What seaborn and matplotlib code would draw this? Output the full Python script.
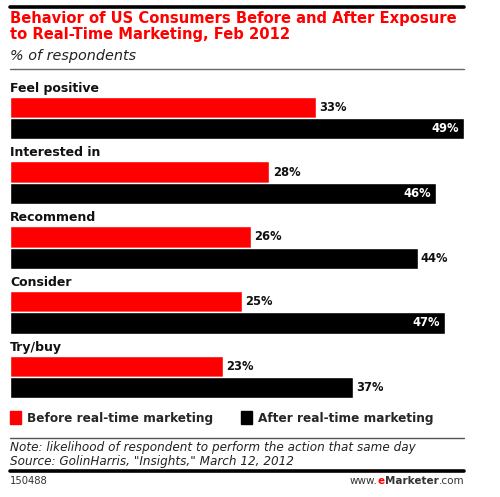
import pandas as pd
import matplotlib.pyplot as plt
import seaborn as sns
from matplotlib.lines import Line2D

# Данные
categories = ["Feel positive", "Interested in", "Recommend", "Consider", "Try/buy"]
before = [33, 28, 26, 25, 23]
after = [49, 46, 44, 47, 37]
series = ["Before real-time marketing", "After real-time marketing"]
colors = ["#ff0000", "#000000"]

df = pd.DataFrame({
    "behavior": categories * 2,
    "pct": before + after,
    "period": [series[0]] * len(categories) + [series[1]] * len(categories),
})

sns.set_style("white")
plt.rcParams["font.family"] = ["DejaVu Sans"]

W, H = 500, 497
fig = plt.figure(figsize=(W / 100, H / 100), dpi=100)


def fx(px):
    return px / W


def fy(py):
    return 1 - py / H


# оси: 0% на x=10, 49% на x=464; центры групп от y=118 до y=377
left, right = 10, 464
pitch = (377 - 118) / 4
top_px = 118 - pitch / 2
bot_px = 377 + pitch / 2
ax = fig.add_axes([fx(left), fy(bot_px), fx(right - left), (bot_px - top_px) / H])

sns.barplot(data=df, y="behavior", x="pct", hue="period", hue_order=series,
            palette=dict(zip(series, colors)), orient="h", width=0.66,
            saturation=1, ax=ax, legend=False)
ax.set_xlim(0, 49)
ax.set_ylim(len(categories) - 0.5, -0.5)
ax.set_axis_off()

# подписи категорий над барами
for i, cat in enumerate(categories):
    ax.text(0, i - 0.36, cat, fontsize=9, fontweight="bold", ha="left",
            va="bottom", color="#111111")

# подписи значений
for container, vals in zip(ax.containers, [before, after]):
    for bar, v in zip(container, vals):
        yc = bar.get_y() + bar.get_height() / 2
        if bar.get_facecolor()[0] < 0.5 and v >= 45:
            ax.text(v - 0.6, yc, f"{v}%", ha="right", va="center",
                    fontsize=8.3, fontweight="bold", color="white")
        else:
            ax.text(v + 0.35, yc, f"{v}%", ha="left", va="center",
                    fontsize=8.3, fontweight="bold", color="#111111")

# линии
fig.add_artist(Line2D([fx(left), fx(right)], [fy(6.5), fy(6.5)], color="black", lw=2.6))
fig.add_artist(Line2D([fx(left), fx(right)], [fy(69), fy(69)], color="#666666", lw=1))
fig.add_artist(Line2D([fx(left), fx(right)], [fy(438), fy(438)], color="#555555", lw=1))
fig.add_artist(Line2D([fx(left), fx(right)], [fy(471), fy(471)], color="black", lw=2.6))

# заголовок
fig.text(fx(10), fy(11), "Behavior of US Consumers Before and After Exposure\nto Real-Time Marketing, Feb 2012",
         color="#ff0000", fontsize=10.65, fontweight="bold", ha="left", va="top", linespacing=1.05)
fig.text(fx(10), fy(56), "% of respondents", fontsize=10.4, style="italic", ha="left",
         va="center", color="#222222")

# легенда
handles = [plt.Rectangle((0, 0), 1, 1, color=c) for c in colors]
fig.legend(handles, series, loc="center left", bbox_to_anchor=(fx(10), fy(418)), ncol=2,
           frameon=False, borderpad=0, borderaxespad=0, handlelength=0.95,
           handleheight=1.2, handletextpad=0.45, columnspacing=2.3,
           prop={"weight": "bold", "size": 8.7})

# примечание и источник
fig.text(fx(10), fy(447), "Note: likelihood of respondent to perform the action that same day",
         fontsize=8.65, style="italic", ha="left", va="center", color="#222222")
fig.text(fx(10), fy(461), 'Source: GolinHarris, "Insights," March 12, 2012',
         fontsize=8.65, style="italic", ha="left", va="center", color="#222222")

# подвал
fig.text(fx(10), fy(481), "150488", fontsize=7.2, ha="left", va="center", color="#333333")
r = fig.canvas.get_renderer()
x = fx(right)
for part, kw in [(".com", {}), ("Marketer", {"fontweight": "bold"}),
                 ("e", {"fontweight": "bold", "color": "#ff0000"}), ("www.", {})]:
    t = fig.text(x, fy(481), part, fontsize=7.5, ha="right", va="center",
                 **{"color": "#333333", **kw})
    x -= t.get_window_extent(r).width / W

fig.savefig("out.png", dpi=100)
